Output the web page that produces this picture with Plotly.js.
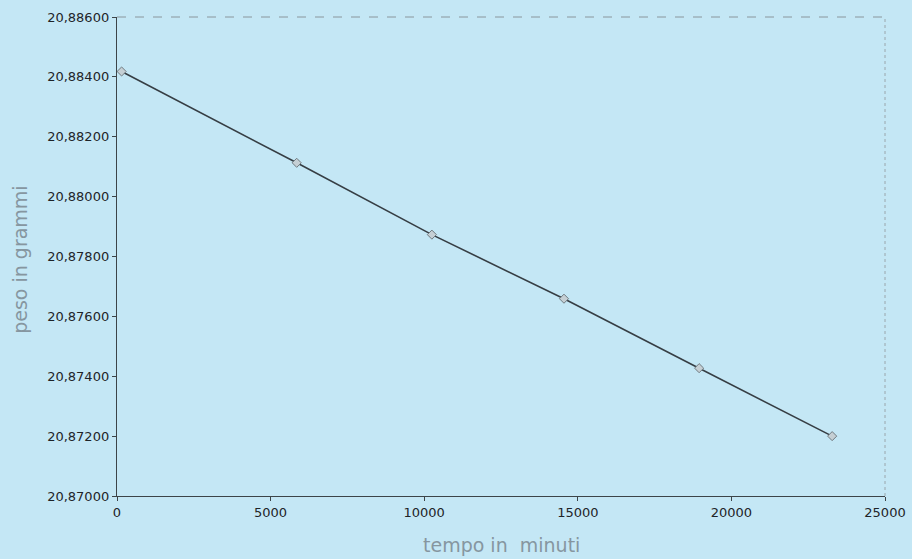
<!DOCTYPE html>
<html>
<head>
<meta charset="utf-8">
<script src="https://cdn.plot.ly/plotly-3.0.1.min.js"></script>
<style>html,body{margin:0;padding:0;background:#c4e7f5;}</style>
</head>
<body>
<div id="chart" style="width:912px;height:559px;"></div>
<script>
const tempo = [150, 5850, 10250, 14550, 18950, 23280];
const peso = [20.88418, 20.88113, 20.87873, 20.87659, 20.87427, 20.87200];
const yTicks = [20.870, 20.872, 20.874, 20.876, 20.878, 20.880, 20.882, 20.884, 20.886];
const xTicks = [0, 5000, 10000, 15000, 20000, 25000];
const xTitle = 'tempo in\u00a0 minuti';
const yTitle = 'peso in grammi';

const trace = {
  x: tempo, y: peso, type: 'scatter', mode: 'lines+markers',
  line: {color: '#363e44', width: 1.6},
  marker: {symbol: 'diamond', size: 7, color: '#c5cfd4', line: {color: '#6f7a80', width: 1}},
  hoverinfo: 'skip'
};

const tickFont = {family: 'DejaVu Sans, Verdana, sans-serif', size: 13, color: '#1e2428'};
const titleFont = {family: 'DejaVu Sans, Verdana, sans-serif', size: 19, color: '#8696a0'};

const layout = {
  width: 912, height: 559,
  margin: {l: 117, r: 27, t: 17, b: 63},
  paper_bgcolor: '#c4e7f5', plot_bgcolor: '#c4e7f5',
  separators: ',.',
  showlegend: false,
  xaxis: {
    range: [0, 25000], tickvals: xTicks, tickformat: 'd',
    showgrid: false, zeroline: false,
    showline: true, linecolor: '#3c4448', linewidth: 1.2,
    ticks: 'outside', ticklen: 4, tickcolor: '#3c4448',
    tickfont: tickFont
  },
  yaxis: {
    range: [20.870, 20.886], tickvals: yTicks, tickformat: '.5f',
    showgrid: false, zeroline: false,
    showline: true, linecolor: '#3c4448', linewidth: 1.2,
    ticks: 'outside', ticklen: 4, tickcolor: '#3c4448',
    tickfont: tickFont
  },
  annotations: [
    {text: xTitle, xref: 'paper', yref: 'paper', x: 0.5, y: 0, xanchor: 'center', yanchor: 'middle', yshift: -49, showarrow: false, font: titleFont},
    {text: yTitle, xref: 'paper', yref: 'paper', x: 0, y: 0.493, xanchor: 'center', yanchor: 'middle', xshift: -97, textangle: -90, showarrow: false, font: titleFont}
  ],
  shapes: [
    {type: 'line', xref: 'paper', yref: 'paper', x0: 0, x1: 1, y0: 1, y1: 1, line: {color: '#8a969c', width: 1, dash: 'dash'}},
    {type: 'line', xref: 'paper', yref: 'paper', x0: 1, x1: 1, y0: 0, y1: 1, line: {color: '#9aa6ac', width: 1, dash: 'dot'}}
  ]
};

Plotly.newPlot('chart', [trace], layout, {displayModeBar: false, staticPlot: true});
</script>
</body>
</html>
